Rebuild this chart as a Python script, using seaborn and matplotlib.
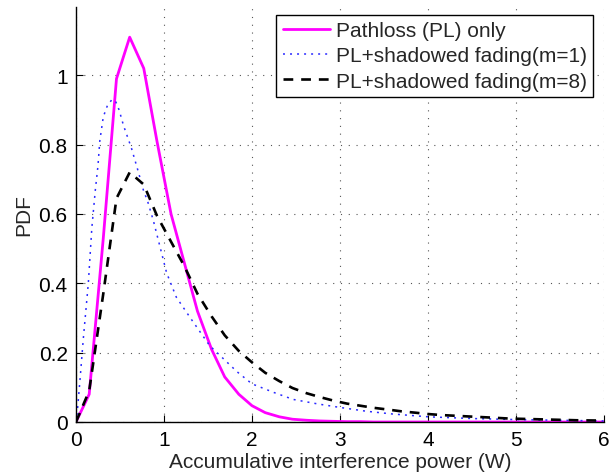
import numpy as np
import pandas as pd
import matplotlib
matplotlib.use("Agg")
import matplotlib.pyplot as plt
import seaborn as sns

# ---- data ----
x_bins = [0, 0.15, 0.31, 0.46, 0.61, 0.77, 0.92, 1.08, 1.23, 1.38, 1.54, 1.69, 1.85, 2.0,
          2.15, 2.31, 2.46, 2.62, 2.77, 2.92, 3.08, 3.23, 3.38, 3.54, 3.69, 3.85, 4.0,
          4.15, 4.31, 4.46, 4.62, 4.77, 4.92, 5.08, 5.23, 5.38, 5.54, 5.69, 5.85, 6.0]
pdf_pathloss = [0, 0.08, 0.53, 0.99, 1.11, 1.02, 0.81, 0.60, 0.46, 0.32, 0.21, 0.13, 0.08, 0.047,
                0.027, 0.015, 0.008, 0.005, 0.003, 0.002, 0.001, 0.001, 0, 0, 0, 0, 0,
                0, 0, 0, 0, 0, 0, 0, 0, 0, 0, 0, 0, 0]
pdf_m8 = [0, 0.09, 0.37, 0.645, 0.72, 0.685, 0.595, 0.52, 0.45, 0.37, 0.305, 0.25, 0.205, 0.172,
          0.142, 0.118, 0.098, 0.083, 0.072, 0.062, 0.053, 0.047, 0.041, 0.036, 0.031, 0.027, 0.023,
          0.020, 0.018, 0.016, 0.014, 0.012, 0.010, 0.009, 0.008, 0.007, 0.006, 0.005, 0.0045, 0.004]

x_m1 = [0, 0.015, 0.045, 0.083, 0.14, 0.18, 0.22, 0.25, 0.27, 0.31, 0.36, 0.41, 0.45, 0.49,
        0.54, 0.63, 0.71, 0.77, 0.81, 0.88, 0.94, 0.99, 1.03, 1.14, 1.30, 1.52, 1.83, 2.0,
        2.25, 2.47, 2.75, 3.0, 3.3, 3.6, 4.0, 4.5, 5.0, 5.5, 6.0]
pdf_m1 = [0, 0.03, 0.12, 0.24, 0.40, 0.56, 0.67, 0.74, 0.81, 0.88, 0.915, 0.93, 0.925, 0.90,
          0.855, 0.79, 0.72, 0.665, 0.64, 0.58, 0.52, 0.47, 0.43, 0.36, 0.30, 0.22, 0.145, 0.11,
          0.085, 0.065, 0.052, 0.042, 0.031, 0.023, 0.015, 0.010, 0.007, 0.005, 0.003]

labels = ["Pathloss (PL) only", "PL+shadowed fading(m=1)", "PL+shadowed fading(m=8)"]
x_ticks = [0, 1, 2, 3, 4, 5, 6]
y_ticks = [0, 0.2, 0.4, 0.6, 0.8, 1.0]
y_ticklabels = ["0", "0.2", "0.4", "0.6", "0.8", "1"]

sns.set_style("white")
plt.rcParams['font.family'] = ['Liberation Sans', 'DejaVu Sans']
plt.rcParams['font.size'] = 15

fig = plt.figure(figsize=(6.16, 4.77), dpi=100)
ax = fig.add_axes([76/616, 1 - 423/477, 528/616, 415/477])

df_pl = pd.DataFrame({"x": x_bins, "y": pdf_pathloss})
df_m1 = pd.DataFrame({"x": x_m1, "y": pdf_m1})
df_m8 = pd.DataFrame({"x": x_bins, "y": pdf_m8})

sns.lineplot(data=df_pl, x="x", y="y", ax=ax, color="#ff00ff", lw=2.0, label=labels[0])
sns.lineplot(data=df_m1, x="x", y="y", ax=ax, color="#2a2aff", lw=1.1,
             linestyle=(0, (1.3, 3.3)), label=labels[1])
sns.lineplot(data=df_m8, x="x", y="y", ax=ax, color="black", lw=1.9,
             linestyle=(0, (3.7, 3.0)), label=labels[2])

ax.set_xlim(0, 6)
ax.set_ylim(0, 1.197)
ax.set_xticks(x_ticks)
ax.set_xticklabels([str(t) for t in x_ticks])
ax.set_yticks(y_ticks)
ax.set_yticklabels(y_ticklabels)
ax.grid(True, color="#555555", linestyle=(0, (1, 6)), lw=0.8)
ax.tick_params(direction="in", length=5, width=0.8, colors="black", labelsize=15, pad=6,
               left=True, bottom=True)
for s in ["top", "right"]:
    ax.spines[s].set_visible(False)
for s in ["left", "bottom"]:
    ax.spines[s].set_color("black")
    ax.spines[s].set_linewidth(1.0)

ax.set_xlabel("Accumulative interference power (W)", fontsize=15, labelpad=2)
ax.set_ylabel("PDF", fontsize=15, labelpad=4)

leg = ax.legend(loc="upper right", bbox_to_anchor=(0.979, 0.981), fontsize=15,
                frameon=True, fancybox=False, framealpha=1, edgecolor="black",
                handlelength=2.3, handletextpad=0.25, borderpad=0.3, labelspacing=0.3,
                borderaxespad=0)
leg.get_frame().set_linewidth(1.0)

fig.savefig("out.png", dpi=100)
